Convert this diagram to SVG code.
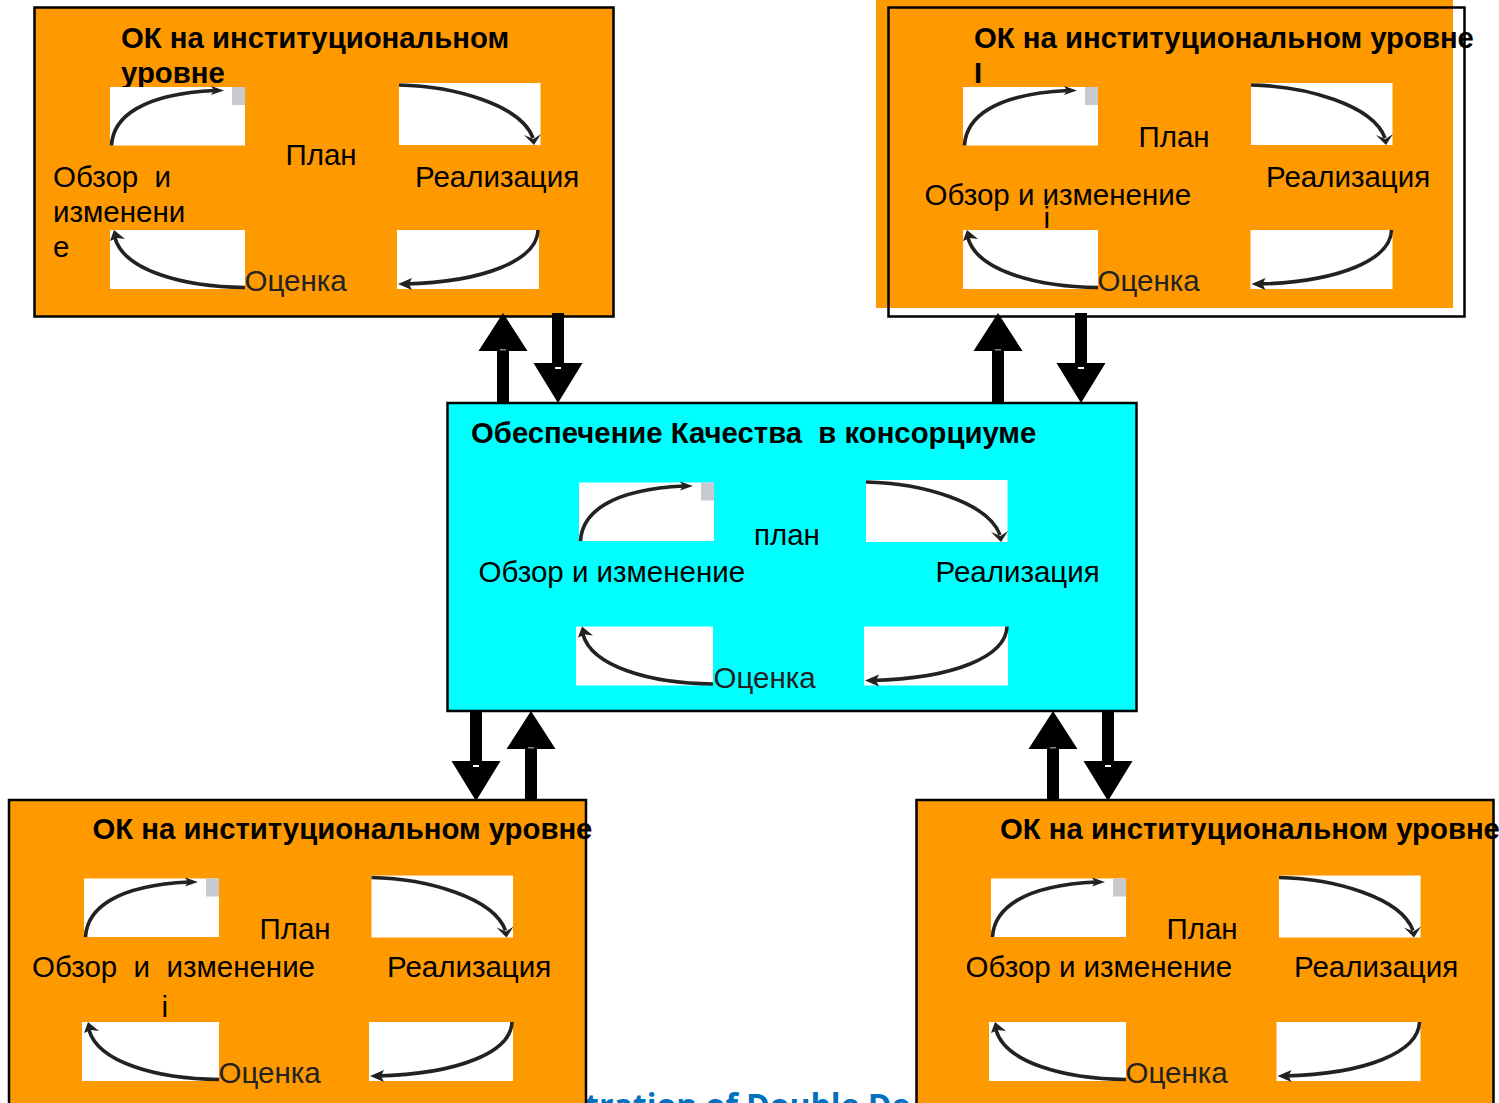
<svg xmlns="http://www.w3.org/2000/svg" width="1499" height="1103" viewBox="0 0 1499 1103">
<style>
text{font-family:"Liberation Sans",Arial,sans-serif;fill:#000;white-space:pre}
.h{font-size:29.3px;font-weight:bold}
.t{font-size:29.5px}
.d{fill:#222}
.box{stroke:#000;stroke-width:2.5}
.o{fill:#FF9900}
.arc{fill:none;stroke:#222;stroke-width:3.6}
.w{fill:#fff}
.ah{fill:#222}
.blue{font-family:"Open Sans",sans-serif;font-weight:bold;font-size:32px;fill:#0070C0}
</style>
<defs>
<g id="qtl"><rect class="w" width="135" height="58.500"/><rect x="122" width="13" height="18" fill="#C8CACF"/><path class="arc" d="M1.500,58.500C3,30 32,7 105,3.500"/><path class="ah" d="M101,-1L114,3.500L101,8L104,3.500Z"/></g>
<g id="qtr"><rect class="w" width="141.500" height="62"/><path class="arc" d="M0,2C55,3 122,22 134,55"/><path class="ah" d="M125,52L134.500,56L142,51L135,62Z"/></g>
<g id="qbl"><rect class="w" width="135" height="59"/><path class="arc" d="M135,57.500C72,57 14,40 5,8"/><path class="ah" d="M0,11L4,0L15,9L7,8Z"/></g>
<g id="qblw"><rect class="w" width="137" height="59"/><path class="arc" d="M137,57.500C74,57 16,40 7,8"/><path class="ah" d="M2,11L6,0L17,9L9,8Z"/></g>
<g id="qbr"><rect class="w" width="142" height="59"/><path class="arc" d="M141,0C140,30 88,52 8,54"/><path class="ah" d="M1,54L15,48L12,54L15,60Z"/></g>
<g id="qbrw"><rect class="w" width="144" height="59"/><path class="arc" d="M143,0C142,30 90,52 8,54"/><path class="ah" d="M1,54L15,48L12,54L15,60Z"/></g>
<g id="au"><path d="M0,0L24.500,38H6V89H-6V38H-24.500Z"/><rect x="-3" y="36" width="6" height="1.500" fill="#888"/></g>
<g id="ad"><path d="M-6,0H6V50H24.500L0,90L-24.500,50H-6Z"/><rect x="-3" y="54" width="6" height="2" fill="#fff"/></g>
</defs>
<text class="blue" x="585" y="1117">tration of Double De</text>
<g id="node-top-left">
<rect class="box o" x="34.500" y="7.500" width="579" height="309"/>
<text class="h" x="121" y="48">ОК на институциональном</text>
<text class="h" x="121" y="83">уровне</text>
<use href="#qtl" x="110" y="87"/><use href="#qtr" x="399" y="83"/><use href="#qbl" x="110" y="230"/><use href="#qbr" x="397" y="230"/>
<text class="t" x="285.500" y="165">План</text>
<text class="t" x="415" y="187">Реализация</text>
<text class="t" x="53" y="187">Обзор  и</text>
<text class="t" x="53" y="222">изменени</text>
<text class="t" x="53" y="257">е</text>
<text class="t d" x="244.500" y="291">Оценка</text>
</g>
<g id="node-top-right">
<rect class="o" x="876" y="0" width="577" height="308"/>
<rect x="888.500" y="7.500" width="576" height="309" fill="none" class="box"/>
<text class="h" x="974" y="48">ОК на институциональном уровне</text>
<text class="h" x="974" y="83">I</text>
<use href="#qtl" x="963" y="87"/><use href="#qtr" x="1251" y="83"/><use href="#qbl" x="963" y="230"/><use href="#qbr" x="1250.500" y="230"/>
<text class="t" x="1138.500" y="147">План</text>
<text class="t" x="1266" y="187">Реализация</text>
<text class="t" x="924.500" y="205">Обзор и изменение</text>
<text class="t" x="1043.500" y="228">i</text>
<text class="t d" x="1097.500" y="291">Оценка</text>
</g>
<g id="node-center">
<rect class="box" fill="#00FFFF" x="447.500" y="403" width="689" height="308"/>
<text class="h" x="471" y="443">Обеспечение Качества  в консорциуме</text>
<use href="#qtl" x="579" y="482.500"/><use href="#qtr" x="866" y="480"/><use href="#qblw" x="576" y="626.500"/><use href="#qbrw" x="864" y="626.500"/>
<text class="t" x="754" y="545">план</text>
<text class="t" x="478.500" y="582">Обзор и изменение</text>
<text class="t" x="935.500" y="582">Реализация</text>
<text class="t d" x="713.500" y="688">Оценка</text>
</g>
<g id="node-bottom-left">
<rect class="box o" x="9" y="800" width="577" height="320"/>
<text class="h" x="92.500" y="839">ОК на институциональном уровне</text>
<use href="#qtl" x="84" y="878.500"/><use href="#qtr" x="371.500" y="875.500"/><use href="#qblw" x="82" y="1022"/><use href="#qbrw" x="369" y="1022"/>
<text class="t" x="259.500" y="939">План</text>
<text class="t" x="32" y="977">Обзор  и  изменение</text>
<text class="t" x="387" y="977">Реализация</text>
<text class="t" x="161.500" y="1017">i</text>
<text class="t d" x="218.500" y="1083">Оценка</text>
</g>
<g id="node-bottom-right">
<rect class="box o" x="916.500" y="800" width="577" height="320"/>
<text class="h" x="1000" y="839">ОК на институциональном уровне</text>
<use href="#qtl" x="991" y="878.500"/><use href="#qtr" x="1279" y="875.500"/><use href="#qblw" x="989" y="1022"/><use href="#qbrw" x="1276.500" y="1022"/>
<text class="t" x="1166.500" y="939">План</text>
<text class="t" x="965.500" y="977">Обзор и изменение</text>
<text class="t" x="1294" y="977">Реализация</text>
<text class="t d" x="1125.500" y="1083">Оценка</text>
</g>
<g id="connectors">
<use href="#au" x="503" y="313"/><use href="#ad" x="558" y="313"/>
<use href="#au" x="998" y="313"/><use href="#ad" x="1081" y="313"/>
<use href="#ad" x="476" y="711"/><use href="#au" x="531" y="711"/>
<use href="#au" x="1053" y="711"/><use href="#ad" x="1108" y="711"/>
</g>
</svg>
